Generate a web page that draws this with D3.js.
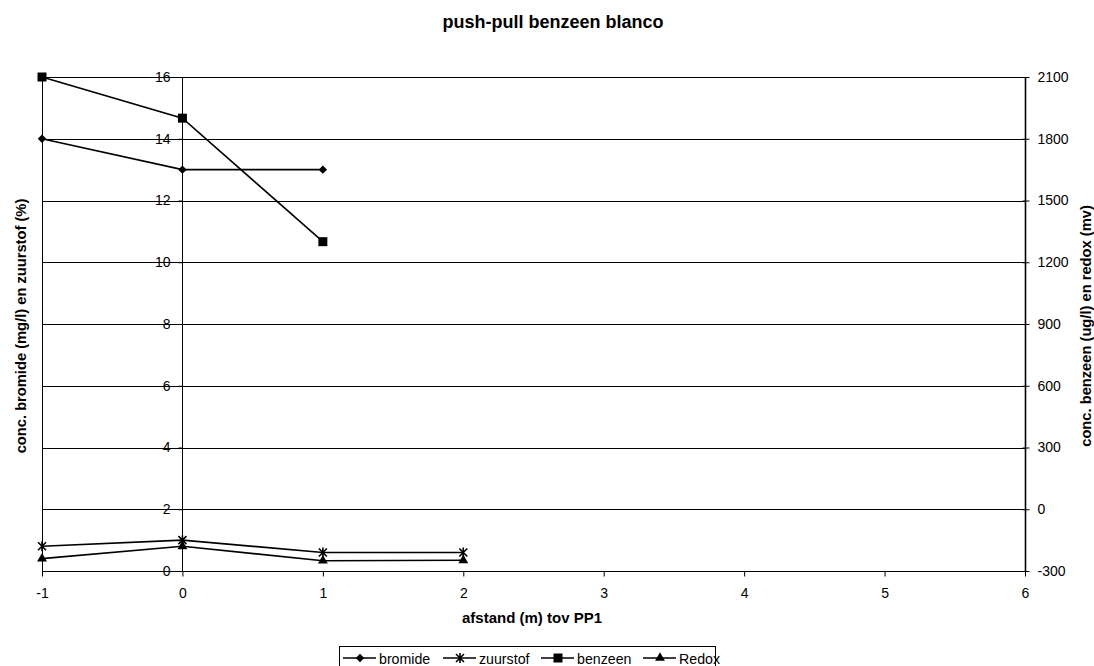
<!DOCTYPE html>
<html>
<head>
<meta charset="utf-8">
<script src="https://cdn.jsdelivr.net/npm/d3@7"></script>
<style>
  body { margin: 0; background: #fff; }
  svg { display: block; font-family: Arial, "Liberation Sans", sans-serif; }
</style>
</head>
<body>
<svg id="chart" width="1094" height="666"></svg>
<script>
// Distance from PP1 (m)
const xTicks = [-1, 0, 1, 2, 3, 4, 5, 6];
const leftTicks = [0, 2, 4, 6, 8, 10, 12, 14, 16];
const rightTicks = [-300, 0, 300, 600, 900, 1200, 1500, 1800, 2100];

// Left axis series
const bromideX = [-1, 0, 1];
const bromide = [14, 13, 13];
const zuurstofX = [-1, 0, 1, 2];
const zuurstof = [0.8, 1.0, 0.6, 0.6];

// Right axis series
const benzeenX = [-1, 0, 1];
const benzeen = [2100, 1900, 1300];
const redoxX = [-1, 0, 1, 2];
const redox = [-240, -180, -250, -248];

const seriesNames = ["bromide", "zuurstof", "benzeen", "Redox"];

const svg = d3.select("#chart");
const plotL = 42, plotR = 1025, plotT = 77, plotB = 571;
const FONT = "Arial, 'Liberation Sans', sans-serif";

const x = d3.scaleLinear().domain([-1, 6]).range([plotL, plotR]);
const yL = d3.scaleLinear().domain([0, 16]).range([plotB, plotT]);
const yR = d3.scaleLinear().domain([-300, 2100]).range([plotB, plotT]);
const plain = d => String(d);

// Gridlines
svg.append("g").selectAll("line").data(leftTicks).join("line")
  .attr("x1", plotL).attr("x2", plotR)
  .attr("y1", d => Math.round(yL(d)) + 0.5).attr("y2", d => Math.round(yL(d)) + 0.5)
  .attr("stroke", "#000").attr("stroke-width", 1);

// Plot frame left edge
svg.append("line").attr("x1", plotL + 0.5).attr("x2", plotL + 0.5)
  .attr("y1", plotT).attr("y2", plotB).attr("stroke", "#000");

// X axis
const xAxis = svg.append("g").attr("transform", `translate(0,${plotB + 0.5})`)
  .call(d3.axisBottom(x).tickValues(xTicks).tickFormat(plain).tickSizeOuter(0).tickSize(5).tickPadding(12));
xAxis.select(".domain").remove();

// Left value axis crosses at x = 0
const yAxisL = svg.append("g").attr("transform", `translate(${Math.round(x(0)) + 0.5},0)`)
  .call(d3.axisLeft(yL).tickValues(leftTicks).tickFormat(plain).tickSizeOuter(0).tickSize(4).tickPadding(8));
yAxisL.select(".domain").attr("d", `M0,${plotT}V${plotB}`);

// Right value axis
const yAxisR = svg.append("g").attr("transform", `translate(${plotR + 0.5},0)`)
  .call(d3.axisRight(yR).tickValues(rightTicks).tickFormat(plain).tickSizeOuter(0).tickSize(4).tickPadding(8));
yAxisR.select(".domain").attr("d", `M0,${plotT}V${plotB}`).attr("stroke-width", 1.6);
yAxisR.selectAll(".tick line").attr("x1", -3);

svg.selectAll(".tick text").attr("font-size", 14).attr("fill", "#000").attr("font-family", FONT);
svg.selectAll(".tick line, .domain").attr("stroke", "#000");

// Markers
const sym = {
  bromide: d3.symbol().type(d3.symbolDiamond2).size(46),
  benzeen: d3.symbol().type(d3.symbolSquare).size(81),
  Redox: d3.symbol().type(d3.symbolTriangle).size(42),
};
function drawMarker(g, name) {
  if (name === "zuurstof") {
    const s = 4;
    g.append("path").attr("d", `M${-s},${-s}L${s},${s}M${-s},${s}L${s},${-s}M0,${-s - 1}V${s + 1}`)
      .attr("stroke", "#000").attr("stroke-width", 1.6).attr("fill", "none");
  } else {
    g.append("path").attr("d", sym[name]()).attr("fill", "#000");
  }
}

function drawSeries(name, xs, ys, yScale) {
  const pts = xs.map((v, i) => [x(v), yScale(ys[i])]);
  svg.append("path").attr("d", d3.line()(pts))
    .attr("fill", "none").attr("stroke", "#000").attr("stroke-width", 1.6);
  pts.forEach(p => drawMarker(svg.append("g").attr("transform", `translate(${p[0]},${p[1]})`), name));
}

drawSeries("bromide", bromideX, bromide, yL);
drawSeries("zuurstof", zuurstofX, zuurstof, yL);
drawSeries("benzeen", benzeenX, benzeen, yR);
drawSeries("Redox", redoxX, redox, yR);

// Titles
svg.append("text").attr("x", 553).attr("y", 28).attr("text-anchor", "middle")
  .attr("font-size", 18).attr("font-weight", "bold").text("push-pull benzeen blanco");
svg.append("text").attr("x", 532).attr("y", 623).attr("text-anchor", "middle")
  .attr("font-size", 15).attr("font-weight", "bold").text("afstand (m) tov PP1");
svg.append("text").attr("transform", `translate(26,326) rotate(-90)`)
  .attr("text-anchor", "middle").attr("font-size", 14.7).attr("font-weight", "bold")
  .text("conc. bromide (mg/l) en zuurstof (%)");
svg.append("text").attr("transform", `translate(1091,326) rotate(-90)`)
  .attr("text-anchor", "middle").attr("font-size", 14.7).attr("font-weight", "bold")
  .text("conc. benzeen (ug/l) en redox (mv)");

// Legend
const legend = svg.append("g");
legend.append("rect").attr("x", 339.5).attr("y", 646.5).attr("width", 376).attr("height", 24)
  .attr("fill", "#fff").attr("stroke", "#000");
const legendX = [343, 443, 541, 643];
seriesNames.forEach((name, i) => {
  const g = legend.append("g").attr("transform", `translate(${legendX[i]},658)`);
  g.append("line").attr("x1", 0).attr("x2", 33).attr("stroke", "#000").attr("stroke-width", 1.6);
  drawMarker(g.append("g").attr("transform", "translate(17,0)"), name);
  g.append("text").attr("x", 36).attr("y", 5.5).attr("font-size", 14.2).text(name);
});
</script>
</body>
</html>
